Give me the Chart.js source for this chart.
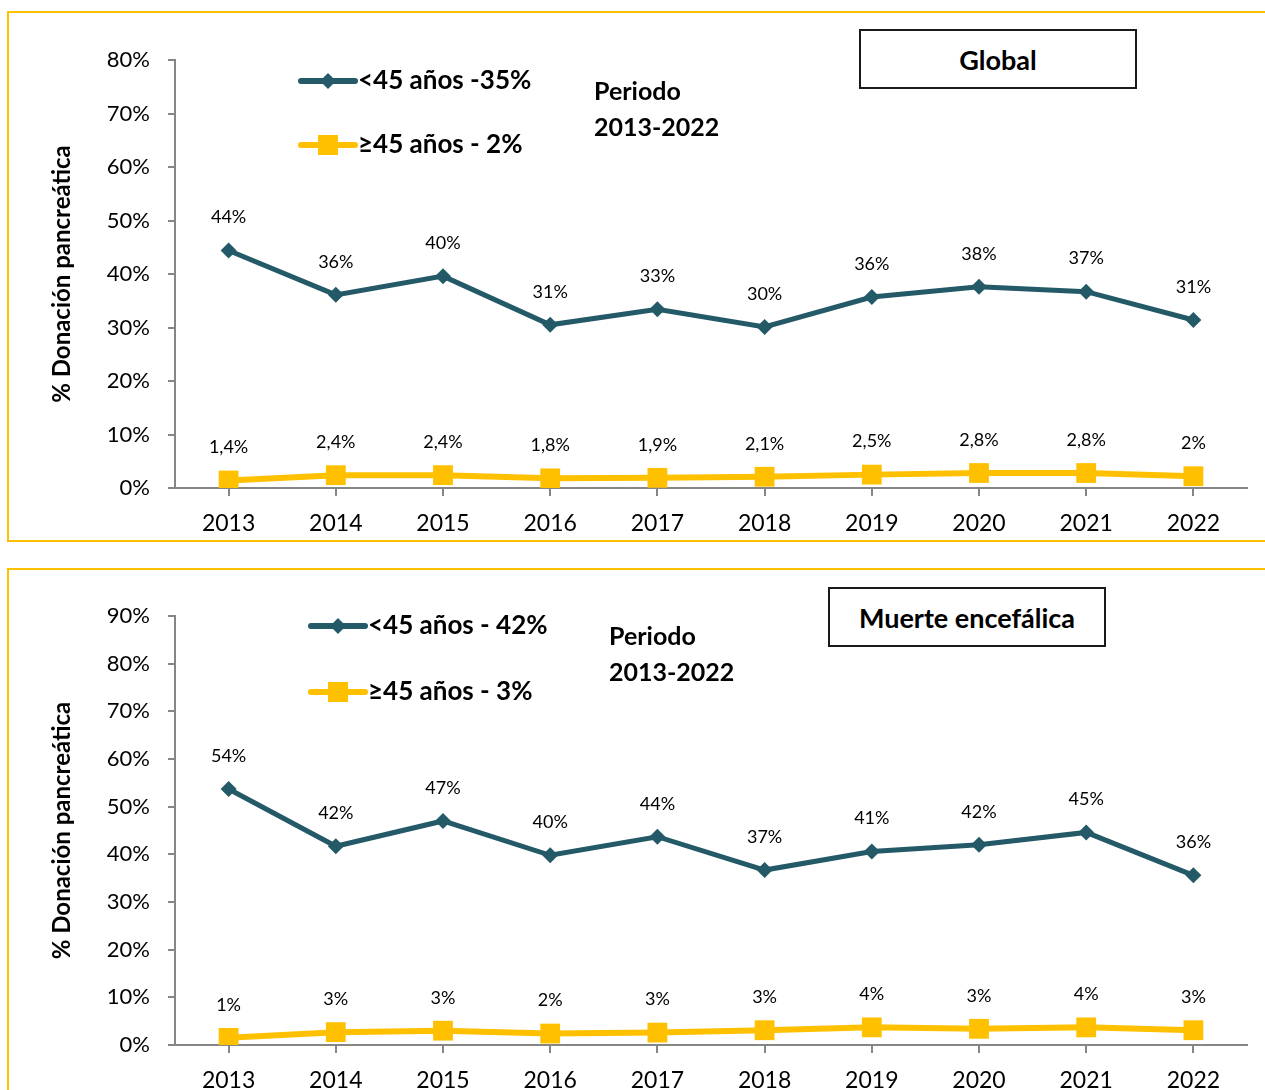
<!DOCTYPE html>
<html>
<head>
<meta charset="utf-8">
<script src="https://cdn.jsdelivr.net/npm/chart.js@4"></script>
<style>
  body { margin: 0; background: #fff; font-family: Lato, "Open Sans", sans-serif; }
  #page { position: relative; width: 1265px; height: 1090px; overflow: hidden; }
  .panel { position: absolute; left: 7px; width: 1300px; border: 2px solid #ffc000; box-sizing: border-box; }
  canvas { position: absolute; left: 0; }
  .box { position: absolute; border: 2px solid #1a1a1a; box-sizing: border-box; height: 60px;
         display: flex; align-items: center; justify-content: center; font-weight: bold; font-size: 27px; color: #000;
         background: #fff; }
  .periodo { position: absolute; font-weight: bold; font-size: 25px; line-height: 36px; color: #000; }
</style>
</head>
<body>
<div id="page">
  <div class="panel" style="top:11px;height:531px"></div>
  <div class="panel" style="top:568px;height:560px"></div>
  <canvas id="top" style="top:0px"></canvas>
  <canvas id="bottom" style="top:560px"></canvas>
  <div class="box" style="left:859px;top:29px;width:278px">Global</div>
  <div class="box" style="left:828px;top:587px;width:278px">Muerte encefálica</div>
  <div class="periodo" style="left:594px;top:72px">Periodo<br>2013-2022</div>
  <div class="periodo" style="left:609px;top:617px">Periodo<br>2013-2022</div>
</div>
<script>
const years = ['2013', '2014', '2015', '2016', '2017', '2018', '2019', '2020', '2021', '2022'];

// Global
const globalYoung = [44.4, 36.1, 39.6, 30.5, 33.4, 30.1, 35.7, 37.6, 36.7, 31.4];
const globalOld = [1.4, 2.4, 2.4, 1.8, 1.9, 2.1, 2.5, 2.8, 2.8, 2.2];
const globalYoungLabels = ['44%', '36%', '40%', '31%', '33%', '30%', '36%', '38%', '37%', '31%'];
const globalOldLabels = ['1,4%', '2,4%', '2,4%', '1,8%', '1,9%', '2,1%', '2,5%', '2,8%', '2,8%', '2%'];

// Muerte encefálica
const meYoung = [53.7, 41.7, 47.0, 39.8, 43.7, 36.7, 40.6, 42.0, 44.6, 35.6];
const meOld = [1.5, 2.7, 3.0, 2.4, 2.6, 3.1, 3.7, 3.4, 3.7, 3.1];
const meYoungLabels = ['54%', '42%', '47%', '40%', '44%', '37%', '41%', '42%', '45%', '36%'];
const meOldLabels = ['1%', '3%', '3%', '2%', '3%', '3%', '4%', '3%', '4%', '3%'];

const DARK = '#245a68';
const GOLD = '#ffc000';
const AXIS = '#868686';
const FONT = 'Lato, "Open Sans", sans-serif';

const pointLabels = {
  id: 'pointLabels',
  afterDatasetsDraw(chart) {
    const ctx = chart.ctx;
    ctx.save();
    ctx.font = '18px ' + FONT;
    ctx.fillStyle = '#000';
    ctx.textAlign = 'center';
    ctx.textBaseline = 'middle';
    chart.data.datasets.forEach((ds, i) => {
      chart.getDatasetMeta(i).data.forEach((pt, j) => {
        ctx.fillText(ds.valueLabels[j], pt.x, pt.y - 33);
      });
    });
    ctx.restore();
  }
};

const customLegend = {
  id: 'customLegend',
  afterDraw(chart, args, opts) {
    const ctx = chart.ctx;
    ctx.save();
    chart.data.datasets.forEach((ds, i) => {
      const x = opts.x, y = opts.y + i * opts.gap;
      ctx.strokeStyle = ds.borderColor;
      ctx.lineWidth = 6;
      ctx.lineCap = 'round';
      ctx.beginPath();
      ctx.moveTo(x, y);
      ctx.lineTo(x + 54, y);
      ctx.stroke();
      ctx.fillStyle = ds.borderColor;
      ctx.beginPath();
      if (ds.pointStyle === 'rectRot') {
        ctx.moveTo(x + 27, y - 8); ctx.lineTo(x + 35, y);
        ctx.lineTo(x + 27, y + 8); ctx.lineTo(x + 19, y);
        ctx.closePath();
      } else {
        ctx.rect(x + 17, y - 10, 20, 20);
      }
      ctx.fill();
      ctx.fillStyle = '#000';
      ctx.font = 'bold 26px ' + FONT;
      ctx.textBaseline = 'middle';
      ctx.fillText(ds.label, x + 57, y);
    });
    ctx.restore();
  }
};

function makeChart(id, height, padTop, yMax, young, old, youngLabels, oldLabels, names, legend) {
  const canvas = document.getElementById(id);
  canvas.width = 1265;
  canvas.height = height;
  canvas.style.width = '1265px';
  canvas.style.height = height + 'px';
  return new Chart(canvas, {
    type: 'line',
    data: {
      labels: years,
      datasets: [
        { label: names[0], data: young, valueLabels: youngLabels, borderColor: DARK, backgroundColor: DARK,
          borderWidth: 5, pointStyle: 'rectRot', pointRadius: 8, pointBorderWidth: 0, tension: 0 },
        { label: names[1], data: old, valueLabels: oldLabels, borderColor: GOLD, backgroundColor: GOLD,
          borderWidth: 6, pointStyle: 'rect', pointRadius: 14, pointBorderWidth: 0, tension: 0 }
      ]
    },
    options: {
      responsive: false,
      animation: false,
      events: [],
      layout: { padding: { top: padTop, right: 18, left: 0, bottom: 0 } },
      plugins: {
        legend: { display: false },
        tooltip: { enabled: false },
        customLegend: legend
      },
      scales: {
        x: {
          offset: true,
          grid: { drawOnChartArea: false, color: AXIS, tickLength: 8, lineWidth: 2 },
          border: { color: AXIS, width: 2 },
          ticks: { color: '#000', font: { size: 23, family: FONT }, padding: 14 },
          afterFit(scale) { scale.height = 50; }
        },
        y: {
          min: 0, max: yMax,
          ticks: { stepSize: 10, color: '#000', font: { size: 22, family: FONT }, padding: 18,
                   callback: v => v + '%' },
          grid: { drawOnChartArea: false, color: AXIS, tickLength: 7, lineWidth: 2 },
          border: { color: AXIS, width: 2 },
          title: { display: true, text: '% Donación pancreática', color: '#000',
                   font: { size: 24, weight: 'bold', family: FONT }, padding: { top: 48, bottom: 0 } },
          afterFit(scale) { scale.width = 175; }
        }
      }
    },
    plugins: [pointLabels, customLegend]
  });
}

makeChart('top', 538, 60, 80, globalYoung, globalOld, globalYoungLabels, globalOldLabels,
  ['<45 años -35%', '≥45 años - 2%'], { x: 301, y: 81, gap: 64 });
makeChart('bottom', 535, 56, 90, meYoung, meOld, meYoungLabels, meOldLabels,
  ['<45 años - 42%', '≥45 años - 3%'], { x: 311, y: 66, gap: 66 });
</script>
</body>
</html>
